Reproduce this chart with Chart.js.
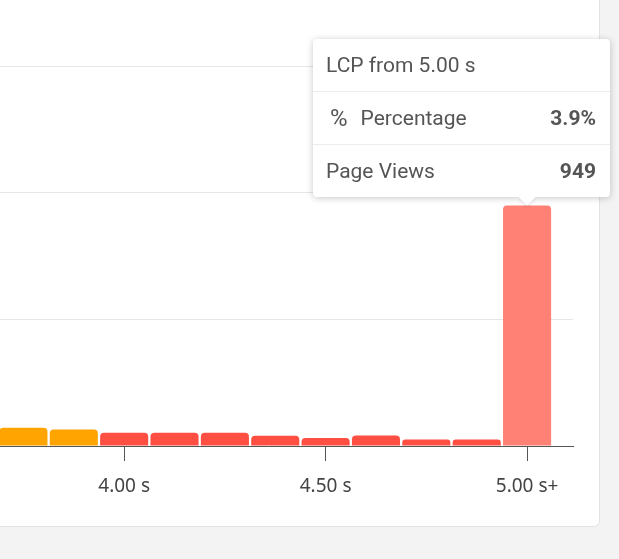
<!DOCTYPE html>
<html>
<head>
<meta charset="utf-8">
<script src="https://cdn.jsdelivr.net/npm/chart.js@4.4.1/dist/chart.umd.min.js"></script>
<style>
    html, body { margin: 0; padding: 0; width: 619px; height: 559px; overflow: hidden; background: #f3f3f3; }
    .card {
        position: absolute; left: -30px; top: -30px; right: 19px; bottom: 32px;
        background: #fff; border: 1px solid #e3e3e3; border-radius: 6px;
    }
    .chart-wrap { position: absolute; left: -37px; top: 66px; width: 637px; height: 440px; }
    .lcp-tooltip {
        position: absolute; width: 297px; background: #fff; border-radius: 4px;
        box-shadow: 0 1px 7px rgba(0, 0, 0, 0.22);
        font-family: Roboto, sans-serif; font-size: 21px; color: #555;
        pointer-events: none;
    }
    .lcp-tooltip .row { height: 52px; display: flex; align-items: center; padding: 0 14px 0 13px; }
    .lcp-tooltip .row + .row { border-top: 1px solid #ececec; }
    .lcp-tooltip .val { margin-left: auto; font-weight: 700; }
    .lcp-tooltip .icon { font-size: 24px; font-weight: 400; margin: 0 13px 0 4px; }
    .lcp-tooltip .caret {
        position: absolute; bottom: -6px; width: 12px; height: 12px; background: #fff;
        transform: rotate(45deg); box-shadow: 2px 2px 3px rgba(0, 0, 0, 0.08);
    }
</style>
</head>
<body>
<div class="card"></div>
<div class="chart-wrap"><canvas id="lcpChart"></canvas></div>

<script>
// LCP histogram bins (start of each bin, seconds)
const binStarts = [3.75, 3.875, 4.0, 4.125, 4.25, 4.375, 4.5, 4.625, 4.75, 4.875, 5.0];
// Page views per bin
const pageViews = [72, 65, 52, 52, 52, 40, 32, 41, 26, 26, 949];
// Total page views, used for the tooltip percentage
const totalViews = 24300;
// Tick labels shown on the x axis
const tickValues = [4.0, 4.5, 5.0];
const tickLabels = ['4.00 s', '4.50 s', '5.00 s+'];

const poorThreshold = 4.0;

document.addEventListener('DOMContentLoaded', function() {
    const ctx = document.getElementById('lcpChart');

    function barColor(context) {
        const start = binStarts[context.dataIndex];
        return start >= poorThreshold ? '#ff4e42' : '#ffa400';
    }

    function hoverColor(context) {
        const start = binStarts[context.dataIndex];
        return start >= poorThreshold ? '#ff8175' : '#ffc04d';
    }

    // HTML tooltip, drawn outside the canvas
    function externalTooltip(context) {
        const chart = context.chart;
        const tooltip = context.tooltip;
        let el = document.getElementById('lcpTooltip');
        if (!el) {
            el = document.createElement('div');
            el.id = 'lcpTooltip';
            el.className = 'lcp-tooltip';
            document.body.appendChild(el);
        }
        if (tooltip.opacity === 0 || !tooltip.dataPoints || !tooltip.dataPoints.length) {
            el.style.display = 'none';
            return;
        }
        const point = tooltip.dataPoints[0];
        const i = point.dataIndex;
        const start = binStarts[i];
        const views = pageViews[i];
        const title = i === binStarts.length - 1
            ? 'LCP from ' + start.toFixed(2) + ' s'
            : 'LCP ' + start.toFixed(2) + ' s – ' + (start + 0.125).toFixed(2) + ' s';
        const pct = (views / totalViews * 100).toFixed(1) + '%';

        el.innerHTML =
            '<div class="row">' + title + '</div>' +
            '<div class="row"><span class="icon">%</span>Percentage<span class="val">' + pct + '</span></div>' +
            '<div class="row">Page Views<span class="val">' + views + '</span></div>' +
            '<div class="caret"></div>';
        el.style.display = 'block';

        const rect = chart.canvas.getBoundingClientRect();
        const caretX = rect.left + tooltip.caretX;
        const caretY = rect.top + tooltip.caretY;
        const w = el.offsetWidth;
        const h = el.offsetHeight;
        let left = caretX - w / 2;
        left = Math.min(left, window.innerWidth - w - 9);
        left = Math.max(left, 9);
        el.style.left = left + 'px';
        el.style.top = (caretY - 9 - h) + 'px';
        el.querySelector('.caret').style.left = (caretX - left - 6) + 'px';
    }

    const chart = new Chart(ctx, {
        type: 'bar',
        data: {
            labels: binStarts,
            datasets: [{
                label: 'Page Views',
                data: pageViews,
                backgroundColor: barColor,
                hoverBackgroundColor: hoverColor,
                borderRadius: { topLeft: 4, topRight: 4, bottomLeft: 0, bottomRight: 0 },
                borderSkipped: 'start',
                barPercentage: 0.955,
                categoryPercentage: 1
            }]
        },
        options: {
            responsive: true,
            maintainAspectRatio: false,
            animation: false,
            layout: { padding: { left: 0, right: 27, top: 0, bottom: 0 } },
            plugins: {
                legend: { display: false },
                tooltip: { enabled: false, external: externalTooltip }
            },
            scales: {
                x: {
                    type: 'linear',
                    min: 3.6,
                    max: 5.114,
                    offset: false,
                    bounds: 'data',
                    afterBuildTicks: function(scale) {
                        scale.ticks = tickValues.map(v => ({ value: v }));
                    },
                    afterFit: function(scale) { scale.height = 60; },
                    ticks: {
                        includeBounds: false,
                        padding: 14,
                        color: '#444',
                        font: { family: 'Noto Sans', size: 19 },
                        callback: function(value) {
                            const k = tickValues.indexOf(value);
                            return k >= 0 ? tickLabels[k] : '';
                        }
                    },
                    grid: { offset: false, drawOnChartArea: false, drawTicks: true, tickLength: 15, tickColor: '#555', tickWidth: 1 },
                    border: { display: true, color: '#555', width: 1 }
                },
                y: {
                    min: 0,
                    max: 1500,
                    ticks: { display: false, stepSize: 500 },
                    grid: { color: '#e6e6e6', drawTicks: false },
                    border: { display: false }
                }
            }
        }
    });

    // show the hovered state of the last bar, as in the reference
    const active = [{ datasetIndex: 0, index: binStarts.length - 1 }];
    chart.setActiveElements(active);
    chart.tooltip.setActiveElements(active, { x: 0, y: 0 });
    chart.render();
});
</script>
</body>
</html>
